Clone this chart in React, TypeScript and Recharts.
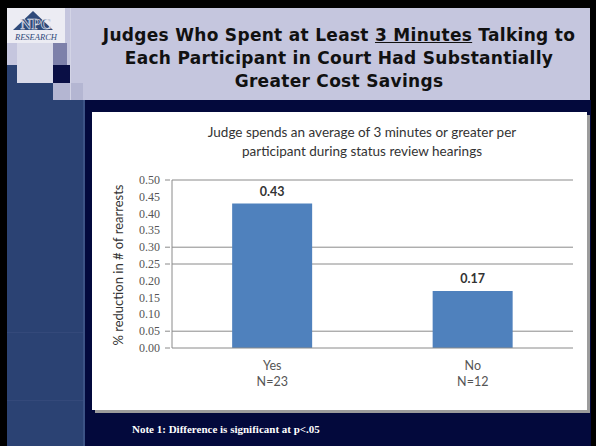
import { BarChart, Bar, XAxis, YAxis, CartesianGrid, LabelList } from 'recharts'

const categories = ['Yes', 'No']
const sampleSizes = ['N=23', 'N=12']
const reductions = [0.43, 0.17]
const yTicks = [0, 0.05, 0.1, 0.15, 0.2, 0.25, 0.3, 0.35, 0.4, 0.45, 0.5]
const gridValues = [0.05, 0.25, 0.3, 0.5]

const data = categories.map((name, i) => ({ name, n: sampleSizes[i], value: reductions[i] }))

const NAVY = '#03093c'
const LAVENDER = '#c5c6de'
const SIDEBAR = '#2b4273'

function XTick(props: any) {
  const { x, y, payload, index } = props
  return (
    <text x={x} y={y} textAnchor="middle" fontFamily="Lato, sans-serif" fontSize={12.5} fill="#555">
      <tspan x={x} dy={14}>{payload.value}</tspan>
      <tspan x={x} dy={16}>{sampleSizes[index]}</tspan>
    </text>
  )
}

function YTick(props: any) {
  const { x, y, payload } = props
  const hasMark = payload.value === 0 || gridValues.includes(payload.value)
  return (
    <g>
      {hasMark && <line x1={x + 1} x2={x + 6} y1={y} y2={y} stroke="#8a8a8a" />}
      <text x={x - 4} y={y} dy={4} textAnchor="end" style={{ fontFamily: '"Liberation Serif", serif', fontSize: 12 }} fill="#555">
        {payload.value.toFixed(2)}
      </text>
    </g>
  )
}

function box(left: number, top: number, width: number, height: number, background: string): any {
  return { position: 'absolute', left, top, width, height, background }
}

export default function App() {
  return (
    <div style={{ position: 'absolute', left: 0, top: 0, width: 596, height: 446, background: '#000', overflow: 'hidden' }}>
      {/* header */}
      <div style={box(7, 8, 583, 92, LAVENDER)} />
      <div style={box(7, 100, 584, 346, NAVY)} />
      <div style={box(7, 83, 76, 363, SIDEBAR)} />
      <div style={box(83, 100, 2, 346, '#3c5385')} />
      <div style={box(7, 332, 76, 1, '#34497a')} />
      <div style={box(7, 400, 76, 1, '#34497a')} />

      {/* decorative squares */}
      <div style={box(7, 65, 10, 18, SIDEBAR)} />
      <div style={box(17, 43, 36, 40, '#d9dae9')} />
      <div style={box(53, 43, 14, 22, '#7d80aa')} />
      <div style={box(53, 65, 17, 18, '#0a0f45')} />
      <div style={box(53, 83, 30, 17, '#b4b6d2')} />
      <div style={box(70, 8, 1, 92, '#d3d4e6')} />

      {/* logo */}
      <div style={box(7, 8, 58, 35, '#ececf3')} />
      <svg style={{ position: 'absolute', left: 7, top: 8 }} width={58} height={35}>
        <polygon points="6,22 26,3 46,22" fill="#2f4a7a" />
        <text x={29} y={21} textAnchor="middle" fontFamily="'Liberation Serif', serif" fontWeight="bold" fontSize={15} fill="#2f4a7a" stroke="#ececf3" strokeWidth={0.6}>NPC</text>
        <text x={29} y={32} textAnchor="middle" fontFamily="'Liberation Serif', serif" fontStyle="italic" fontSize={8.5} fill="#2f4a7a">RESEARCH</text>
      </svg>

      {/* slide title */}
      <div
        style={{
          position: 'absolute',
          left: 79,
          top: 24,
          width: 520,
          textAlign: 'center',
          fontFamily: '"DejaVu Sans", Verdana, sans-serif',
          fontWeight: 'bold',
          fontSize: 17,
          letterSpacing: 0.3,
          lineHeight: '23px',
          color: '#111',
        }}
      >
        Judges Who Spent at Least <u>3 Minutes</u> Talking to
        <br />
        Each Participant in Court Had Substantially
        <br />
        Greater Cost Savings
      </div>

      {/* chart panel */}
      <div style={{ ...box(92, 112, 495, 298, '#fff'), boxShadow: '3px 3px 0 #9c9c9c' }}>
        <div
          style={{
            position: 'absolute',
            left: 0,
            top: 11,
            width: 540,
            textAlign: 'center',
            fontFamily: 'Lato, sans-serif',
            fontSize: 13.5,
            lineHeight: '19px',
            color: '#333',
          }}
        >
          Judge spends an average of 3 minutes or greater per
          <br />
          participant during status review hearings
        </div>
        <div
          style={{
            position: 'absolute',
            left: 26 - 90,
            top: 153 - 10,
            width: 180,
            height: 20,
            transform: 'rotate(-90deg)',
            transformOrigin: '90px 10px',
            textAlign: 'center',
            fontFamily: 'Lato, sans-serif',
            fontSize: 13,
            lineHeight: '20px',
            color: '#333',
            whiteSpace: 'nowrap',
          }}
        >
          % reduction in # of rearrests
        </div>
        <BarChart
          width={495}
          height={298}
          data={data}
          margin={{ top: 68, right: 14, bottom: 18, left: 30 }}
          barCategoryGap="30%"
        >
          <CartesianGrid vertical={false} horizontalValues={gridValues} stroke="#8a8a8a" />
          <XAxis dataKey="name" height={44} tickLine={false} axisLine={{ stroke: '#8a8a8a' }} tick={<XTick />} interval={0} />
          <YAxis
            width={50}
            domain={[0, 0.5]}
            ticks={yTicks}
            interval={0}
            tickLine={false}
            axisLine={{ stroke: '#8a8a8a' }}
            tick={<YTick />}
          />
          <Bar dataKey="value" fill="#4f81bd" isAnimationActive={false}>
            <LabelList
              dataKey="value"
              position="top"
              offset={8}
              formatter={(v: any) => Number(v).toFixed(2)}
              style={{ fontFamily: 'Lato, sans-serif', fontWeight: 'bold', fontSize: 12.5, fill: '#333' }}
            />
          </Bar>
        </BarChart>
      </div>

      {/* note */}
      <div
        style={{
          position: 'absolute',
          left: 132,
          top: 423,
          fontFamily: "'Liberation Serif', serif",
          fontWeight: 'bold',
          fontSize: 11,
          color: '#fff',
          whiteSpace: 'nowrap',
        }}
      >
        Note 1: Difference is significant at p&lt;.05
      </div>
    </div>
  )
}
